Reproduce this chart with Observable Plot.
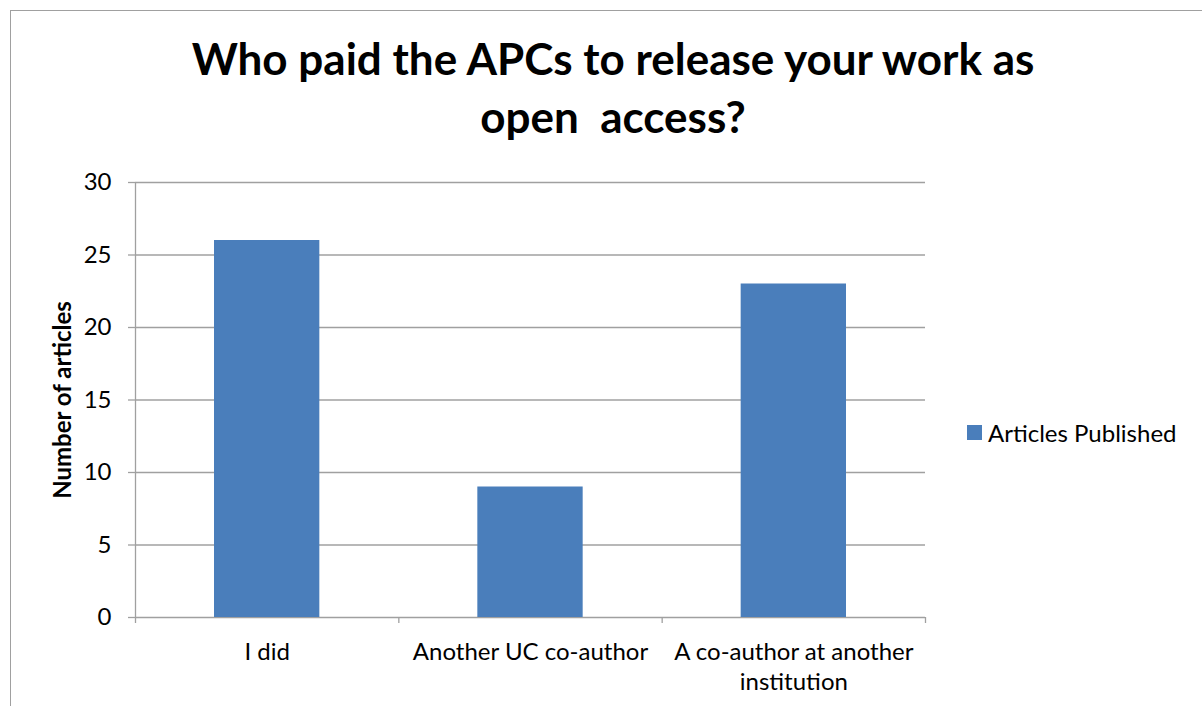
<!DOCTYPE html>
<html><head><meta charset="utf-8">
<script src="https://cdn.jsdelivr.net/npm/d3@7"></script>
<script src="https://cdn.jsdelivr.net/npm/@observablehq/plot@0.6"></script>
<style>
body{margin:0;background:#fff;}
#wrap{position:relative;width:1202px;height:706px;overflow:hidden;font-family:Lato,"Open Sans",sans-serif;color:#000}
#border{position:absolute;left:10px;top:10px;width:1300px;height:800px;border-left:1.5px solid #a0a0a0;border-top:1.5px solid #a0a0a0;box-sizing:border-box}
#title{position:absolute;left:0;width:1226px;top:29px;text-align:center;font-weight:bold;font-size:44px;line-height:58px}
#legend{position:absolute;left:967px;top:418px;font-size:24px;display:flex;align-items:center;white-space:nowrap}
#legend .sw{width:15px;height:15px;margin-right:6px}
#chart{position:absolute;left:0;top:0}
</style></head>
<body><div id="wrap"><div id="border"></div><div id="chart"></div><div id="title"></div><div id="legend"></div></div>
<script>
const titleLines = ["Who paid the APCs to release your work as", "open\u00a0 access?"];
const categories = ["I did", "Another UC co-author", "A co-author at another institution"];
const tickLabels = ["I did", "Another UC co-author", "A co-author at another\ninstitution"];
const values = [26, 9, 23];
const yTicks = [0, 5, 10, 15, 20, 25, 30];
const seriesName = "Articles Published";
const yLabel = "Number of articles";
const barColor = "#4A7EBB";
const gridColor = "#a0a0a0";

const data = categories.map((c, i) => ({cat: c, x1: i + 0.3, x2: i + 0.7, value: values[i]}));
const font = "Lato, 'Open Sans', sans-serif";

const chart = Plot.plot({
  width: 1202, height: 706,
  marginLeft: 135, marginRight: 277, marginTop: 182, marginBottom: 89,
  x: {type: "linear", domain: [0, categories.length]},
  y: {domain: [0, 30]},
  style: {fontFamily: font, fontSize: "24px", color: "#000", background: "transparent", overflow: "visible"},
  marks: [
    Plot.ruleY(yTicks, {stroke: gridColor, strokeWidth: 1.3}),
    Plot.rectY(data, {x1: "x1", x2: "x2", y1: 0, y2: "value", fill: barColor}),
    Plot.ruleX([0], {stroke: gridColor, strokeWidth: 1.3}),
    Plot.axisY({ticks: yTicks, tickSize: 7, tickPadding: 17, stroke: gridColor, strokeWidth: 1.3, strokeOpacity: 1, label: null, fontSize: 24}),
    Plot.axisX({ticks: d3.range(categories.length + 1), tickSize: 6, tickFormat: () => "", stroke: gridColor, strokeWidth: 1.3, strokeOpacity: 1, label: null}),
    Plot.axisX({ticks: categories.map((c, i) => i + 0.5), tickSize: 0, tickPadding: 21, tickFormat: d => tickLabels[Math.floor(d)], label: null, fontSize: 24, lineHeight: 1.25}),
    Plot.text([yLabel], {frameAnchor: "left", textAnchor: "middle", rotate: -90, dx: -72, fontWeight: "bold", fontSize: 24, fill: "#000"})
  ]
});
document.getElementById("chart").appendChild(chart);
document.getElementById("title").innerHTML = titleLines.map(t => `<div>${t}</div>`).join("");
document.getElementById("legend").innerHTML = `<div class="sw" style="background:${barColor}"></div><span>${seriesName}</span>`;
</script>
</body></html>
